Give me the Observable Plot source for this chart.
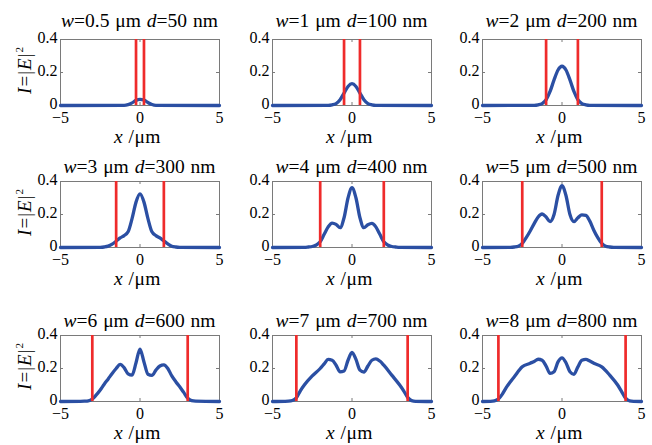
<!DOCTYPE html>
<html>
<head>
<meta charset="utf-8">
<script src="https://cdn.jsdelivr.net/npm/d3@7"></script>
<script src="https://cdn.jsdelivr.net/npm/@observablehq/plot@0.6"></script>
<style>
  body { margin: 0; background: #fff; }
  #c { position: relative; width: 652px; height: 445px; overflow: hidden; font-family: "Liberation Serif", "DejaVu Serif", "Noto Serif", "Times New Roman", Times, serif; color: #000; }
  #c svg { position: absolute; overflow: visible; }
  .t { position: absolute; white-space: nowrap; font-size: 19.5px; line-height: 1; transform: translateX(-50%); word-spacing: 1px; }
  .xl { position: absolute; white-space: nowrap; font-size: 19.5px; line-height: 1; transform: translateX(-50%); letter-spacing: 0.5px; }
  .yl { position: absolute; white-space: nowrap; font-size: 19px; line-height: 1; transform: translate(-50%, -50%) rotate(-90deg); letter-spacing: 1px; }
  .yl sup { font-size: 11px; vertical-align: 8px; line-height: 0; }
</style>
</head>
<body>
<div id="c"></div>
<script>
// ---- data ----
const widths = [0.5, 1, 2, 3, 4, 5, 6, 7, 8];          // w (μm)
const depths = [50, 100, 200, 300, 400, 500, 600, 700, 800]; // d (nm)
const xTicks = [-5, 0, 5];
const yTicks = [0, 0.2, 0.4];

const x1 = [-5, -1, -0.75, -0.5, -0.25, 0, 0.25, 0.5, 0.75, 1, 5];
const i1 = [0, 0.001, 0.005, 0.016, 0.031, 0.037, 0.033, 0.018, 0.006, 0.001, 0];

const x2 = [-5, -1.5, -1.25, -1, -0.75, -0.5, -0.25, 0, 0.25, 0.5, 0.75, 1, 1.25, 1.5, 5];
const i2 = [0, 0.001, 0.004, 0.012, 0.035, 0.075, 0.115, 0.132, 0.115, 0.075, 0.035, 0.012, 0.004, 0.001, 0];

const x3 = [-5, -1.75, -1.5, -1.25, -1, -0.75, -0.5, -0.25, 0, 0.25, 0.5, 0.75, 1, 1.25, 1.5, 1.75, 5];
const i3 = [0, 0.001, 0.004, 0.012, 0.035, 0.085, 0.155, 0.215, 0.238, 0.215, 0.155, 0.085, 0.035, 0.012, 0.004, 0.001, 0];

const x4 = [-5, -2.5, -2.25, -2, -1.75, -1.5, -1.25, -1, -0.75, -0.5, -0.25, 0, 0.25, 0.5, 0.75, 1, 1.25, 1.5, 1.75, 2, 2.25, 2.5, 5];
const i4 = [0, 0.001, 0.003, 0.008, 0.02, 0.038, 0.058, 0.072, 0.095, 0.175, 0.275, 0.325, 0.275, 0.175, 0.095, 0.072, 0.058, 0.04, 0.022, 0.008, 0.003, 0.001, 0];

const x5 = [-5, -3, -2.75, -2.5, -2.25, -2, -1.75, -1.5, -1.25, -1, -0.75, -0.5, -0.25, 0, 0.25, 0.5, 0.75, 1, 1.25, 1.5, 1.75, 2, 2.25, 2.5, 2.75, 3, 5];
const i5 = [0, 0.001, 0.003, 0.006, 0.015, 0.035, 0.08, 0.125, 0.148, 0.14, 0.12, 0.18, 0.3, 0.362, 0.3, 0.18, 0.12, 0.138, 0.146, 0.125, 0.08, 0.035, 0.015, 0.006, 0.003, 0.001, 0];

const x6 = [-5, -3.25, -3, -2.75, -2.5, -2.25, -2, -1.75, -1.5, -1.25, -1, -0.75, -0.5, -0.25, 0, 0.25, 0.5, 0.75, 1, 1.25, 1.5, 1.75, 2, 2.25, 2.5, 2.75, 3, 3.25, 5];
const i6 = [0, 0.001, 0.003, 0.008, 0.025, 0.06, 0.1, 0.145, 0.185, 0.203, 0.185, 0.157, 0.2, 0.315, 0.375, 0.315, 0.2, 0.157, 0.18, 0.198, 0.195, 0.16, 0.105, 0.06, 0.025, 0.008, 0.003, 0.001, 0];

const x7 = [-5, -3.75, -3.5, -3.25, -3, -2.75, -2.5, -2.25, -2, -1.75, -1.5, -1.25, -1, -0.75, -0.5, -0.25, 0, 0.25, 0.5, 0.75, 1, 1.25, 1.5, 1.75, 2, 2.25, 2.5, 2.75, 3, 3.25, 3.5, 5];
const i7 = [0, 0.001, 0.002, 0.004, 0.015, 0.04, 0.07, 0.105, 0.137, 0.17, 0.2, 0.225, 0.205, 0.168, 0.16, 0.235, 0.318, 0.24, 0.165, 0.158, 0.19, 0.215, 0.222, 0.2, 0.155, 0.12, 0.089, 0.055, 0.02, 0.005, 0.002, 0];

const x8 = [-5, -4.25, -4, -3.75, -3.5, -3.25, -3, -2.5, -2, -1.75, -1.5, -1.25, -1, -0.75, -0.5, -0.25, 0, 0.25, 0.5, 0.75, 1, 1.25, 1.5, 1.75, 2, 2.5, 3, 3.25, 3.5, 3.75, 4, 5];
const i8 = [0, 0.001, 0.002, 0.006, 0.022, 0.065, 0.1, 0.155, 0.2, 0.228, 0.255, 0.25, 0.22, 0.18, 0.185, 0.25, 0.298, 0.255, 0.19, 0.178, 0.215, 0.25, 0.258, 0.245, 0.22, 0.16, 0.1, 0.065, 0.025, 0.005, 0.001, 0];

const x9 = [-5, -4.5, -4.25, -4, -3.75, -3.5, -3, -2.5, -2, -1.75, -1.5, -1.25, -1, -0.75, -0.5, -0.25, 0, 0.25, 0.5, 0.75, 1, 1.25, 1.5, 1.75, 2, 2.5, 3, 3.5, 3.75, 4, 4.25, 4.5, 5];
const i9 = [0, 0.001, 0.004, 0.015, 0.045, 0.085, 0.15, 0.21, 0.232, 0.243, 0.256, 0.25, 0.215, 0.17, 0.18, 0.24, 0.265, 0.235, 0.18, 0.165, 0.21, 0.25, 0.255, 0.245, 0.232, 0.21, 0.16, 0.1, 0.06, 0.02, 0.004, 0.001, 0];

const curvesX = [x1, x2, x3, x4, x5, x6, x7, x8, x9];
const curvesI = [i1, i2, i3, i4, i5, i6, i7, i8, i9];

// ---- layout ----
const colLeft = [60, 272, 482];
const rowTop = [39, 181, 335];
const FW = 159, FH = 66;
const ML = 40, MR = 10, MT = 10, MB = 30;
const titleGap = [12, 8, 8];
const fmt = d3.format("~g");

const blue = "#2b4fa3", red = "#ef2b2b", frameColor = "#7a7a7a";
const FONT = "'Liberation Serif', 'DejaVu Serif', 'Noto Serif', 'Times New Roman', Times, serif";
const c = document.getElementById("c");

for (let k = 0; k < 9; k++) {
  const r = Math.floor(k / 3), col = k % 3;
  const L = colLeft[col], T = rowTop[r];
  const data = curvesX[k].map((x, j) => ({x, I: curvesI[k][j]}));
  const w = widths[k];
  const edges = [-w / 2, w / 2];

  const svg = Plot.plot({
    width: ML + FW + MR,
    height: MT + FH + MB,
    marginLeft: ML, marginRight: MR, marginTop: MT, marginBottom: MB,
    style: {fontFamily: FONT, fontSize: "16px", background: "transparent", overflow: "visible", color: "#000"},
    x: {domain: [-5, 5], label: null},
    y: {domain: [0, 0.4], label: null},
    marks: [
      Plot.frame({stroke: frameColor, strokeWidth: 1}),
      Plot.tickX(xTicks, {insetTop: FH - 3, stroke: frameColor}),
      Plot.tickX(xTicks, {insetBottom: FH - 3, stroke: frameColor}),
      Plot.tickY(yTicks, {insetRight: FW - 3, stroke: frameColor}),
      Plot.tickY(yTicks, {insetLeft: FW - 3, stroke: frameColor}),
      Plot.axisX(xTicks, {tickSize: 0, tickPadding: 6, fill: "#000", label: null, tickFormat: fmt}),
      Plot.axisY(yTicks, {tickSize: 0, tickPadding: 3, dy: -2, fill: "#000", label: null, tickFormat: fmt}),
      Plot.line(data, {x: "x", y: "I", stroke: blue, strokeWidth: 3.3, curve: "monotone-x", strokeLinejoin: "round", strokeLinecap: "round"}),
      Plot.ruleX(edges, {stroke: red, strokeWidth: 2.7})
    ]
  });
  svg.style.left = (L - ML) + "px";
  svg.style.top = (T - MT) + "px";
  c.appendChild(svg);

  const t = document.createElement("div");
  t.className = "t";
  t.innerHTML = `<i>w</i>=${w} μm <i>d</i>=${depths[k]} nm`;
  t.style.left = (L + FW / 2) + "px";
  t.style.top = (T - titleGap[r] - 16) + "px";
  c.appendChild(t);

  const xl = document.createElement("div");
  xl.className = "xl";
  xl.innerHTML = `<i>x</i> /μm`;
  xl.style.left = (L + FW / 2 - 2) + "px";
  xl.style.top = (T + FH + 38 - 16) + "px";
  c.appendChild(xl);

  if (col === 0) {
    const yl = document.createElement("div");
    yl.className = "yl";
    yl.innerHTML = `<i>I</i>=|<i>E</i>|<sup>2</sup>`;
    yl.style.left = "24px";
    yl.style.top = (T + FH / 2 - 2) + "px";
    c.appendChild(yl);
  }
}
</script>
</body>
</html>
